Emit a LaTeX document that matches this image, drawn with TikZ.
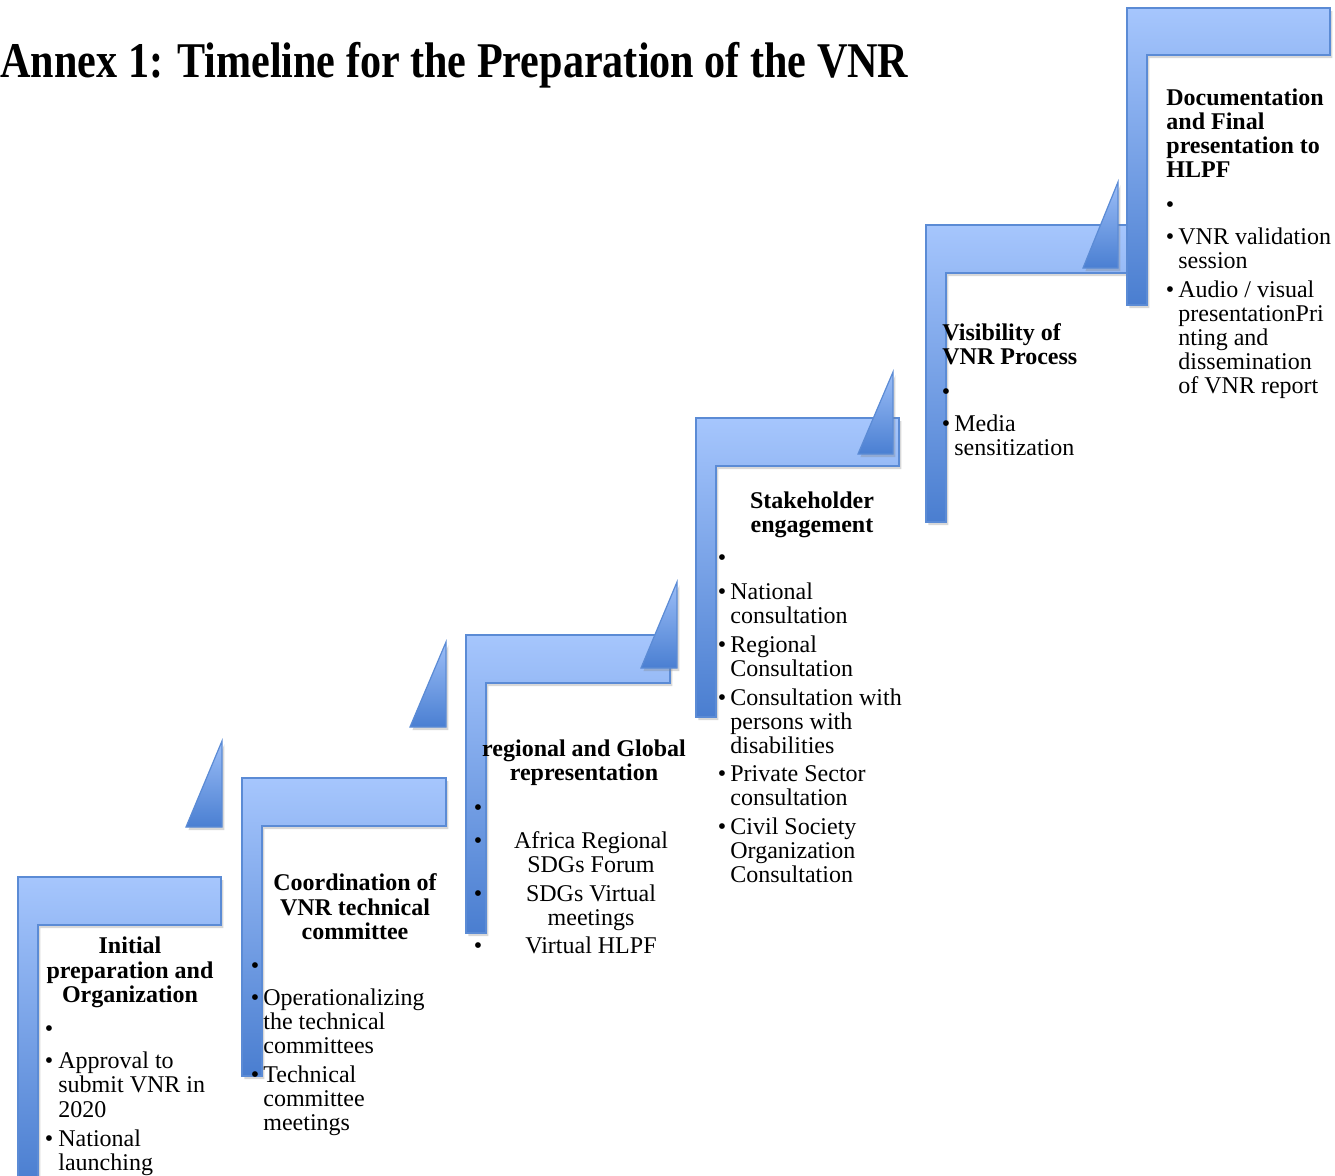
\documentclass[tikz,border=0pt]{standalone}
\usepackage{fontspec}
\usepackage{graphicx}
\setmainfont{Liberation Serif}
\usetikzlibrary{shadows}
\definecolor{barTop}{HTML}{A6C6FD}
\definecolor{barBot}{HTML}{4A7ED0}
\definecolor{barEdge}{HTML}{5B8BD5}
\definecolor{triTop}{HTML}{9CBEF7}
\definecolor{triBot}{HTML}{4A7FD2}
\tikzset{
  stepbar/.style={draw=barEdge, line width=0.6pt, top color=barTop, bottom color=barBot,
    drop shadow={shadow xshift=1.2pt, shadow yshift=-1.6pt, opacity=0.3}},
  tri/.style={draw=barEdge, line width=0.6pt, top color=triTop, bottom color=triBot,
    drop shadow={shadow xshift=1.2pt, shadow yshift=-1.6pt, opacity=0.3}},
  hd/.style={font=\bfseries\fontsize{12}{12}\selectfont, inner sep=0pt, anchor=base},
  hdl/.style={font=\bfseries\fontsize{12}{12}\selectfont, inner sep=0pt, anchor=base west},
  tx/.style={font=\fontsize{12}{12}\selectfont, inner sep=0pt, anchor=base west},
  txc/.style={font=\fontsize{12}{12}\selectfont, inner sep=0pt, anchor=base},
  bul/.style={font=\fontsize{12}{12}\selectfont, inner sep=0pt, anchor=base},
}
\newcommand{\stepshape}[6]{% x0 y0 x1 yb xi ybot
  \path[stepbar] (#1,#2) -- (#3,#2) -- (#3,#4) -- (#5,#4) -- (#5,#6) -- (#1,#6) -- cycle;}
\newcommand{\trishape}[4]{% xl xr yt yb
  \path[tri] (#2,#3) -- (#2,#4) -- (#1,#4) -- cycle;}
\begin{document}
\begin{tikzpicture}[x=0.5pt,y=-0.5pt]
\useasboundingbox (0,0) rectangle (1335,1175);
\fill[white] (0,0) rectangle (1335,1175);

% title
\node[anchor=base west, inner sep=0pt, font=\bfseries\fontsize{25}{25}\selectfont] (title) at (0,77)
  {\resizebox{454pt}{\height}{Annex 1: Timeline for the Preparation of the VNR}};

% shapes
\stepshape{18}{877}{221}{925}{38}{1185}
\trishape{186}{222}{741}{827}
\stepshape{242}{778}{446}{826}{262}{1076}
\trishape{410}{446}{642}{727}
\stepshape{466}{635}{670}{683}{486}{933}
\trishape{641}{677}{582}{668}
\stepshape{696}{418}{899}{466}{716}{717}
\trishape{858}{893}{372}{454}
\stepshape{926}{225}{1127}{273}{946}{522}
\trishape{1083}{1118}{182}{268}
\stepshape{1127}{8}{1330}{55}{1147}{305}

% step 1
\node[hd] (a1) at (130,953) {Initial};
\node[hd] (a2) at (130,978) {preparation and};
\node[hd] (a3) at (130,1002) {Organization};
\node[bul] (ab0) at (49,1036) {•};
\node[bul] (ab1) at (49,1068) {•};
\node[tx] (a4) at (58,1068) {Approval to};
\node[tx] (a5) at (58,1092) {submit VNR in};
\node[tx] (a6) at (58,1117) {2020};
\node[bul] (ab2) at (49,1146) {•};
\node[tx] (a7) at (58,1146) {National};
\node[tx] (a8) at (58,1170) {launching};

% step 2
\node[hd] (b1) at (355,890) {Coordination of};
\node[hd] (b2) at (355,915) {VNR technical};
\node[hd] (b3) at (355,939) {committee};
\node[bul] (bb0) at (255,973) {•};
\node[bul] (bb1) at (255,1005) {•};
\node[tx] (b4) at (263,1005) {Operationalizing};
\node[tx] (b5) at (263,1029) {the technical};
\node[tx] (b6) at (263,1053) {committees};
\node[bul] (bb2) at (255,1082) {•};
\node[tx] (b7) at (263,1082) {Technical};
\node[tx] (b8) at (263,1106) {committee};
\node[tx] (b9) at (263,1130) {meetings};

% step 3
\node[hd] (c1) at (584,756) {regional and Global};
\node[hd] (c2) at (584,780) {representation};
\node[bul] (cb0) at (478,815) {•};
\node[bul] (cb1) at (478,848) {•};
\node[txc] (c3) at (591,848) {Africa Regional};
\node[txc] (c4) at (591,872) {SDGs Forum};
\node[bul] (cb2) at (478,901) {•};
\node[txc] (c5) at (591,901) {SDGs Virtual};
\node[txc] (c6) at (591,925) {meetings};
\node[bul] (cb3) at (478,953) {•};
\node[txc] (c7) at (591,953) {Virtual HLPF};

% step 4
\node[hd] (d1) at (812,508) {Stakeholder};
\node[hd] (d2) at (812,532) {engagement};
\node[bul] (db0) at (722,565) {•};
\node[bul] (db1) at (722,599) {•};
\node[tx] (d3) at (730,599) {National};
\node[tx] (d4) at (730,623) {consultation};
\node[bul] (db2) at (722,652) {•};
\node[tx] (d5) at (730,652) {Regional};
\node[tx] (d6) at (730,676) {Consultation};
\node[bul] (db3) at (722,705) {•};
\node[tx] (d7) at (730,705) {Consultation with};
\node[tx] (d8) at (730,729) {persons with};
\node[tx] (d9) at (730,753) {disabilities};
\node[bul] (db4) at (722,781) {•};
\node[tx] (d10) at (730,781) {Private Sector};
\node[tx] (d11) at (730,805) {consultation};
\node[bul] (db5) at (722,834) {•};
\node[tx] (d12) at (730,834) {Civil Society};
\node[tx] (d13) at (730,858) {Organization};
\node[tx] (d14) at (730,882) {Consultation};

% step 5
\node[hdl] (e1) at (942,340) {Visibility of};
\node[hdl] (e2) at (942,364) {VNR Process};
\node[bul] (eb0) at (946,399) {•};
\node[bul] (eb1) at (946,431) {•};
\node[tx] (e3) at (954,431) {Media};
\node[tx] (e4) at (954,455) {sensitization};

% step 6
\node[hdl] (f1) at (1166,105) {Documentation};
\node[hdl] (f2) at (1166,129) {and Final};
\node[hdl] (f3) at (1166,153) {presentation to};
\node[hdl] (f4) at (1166,177) {HLPF};
\node[bul] (fb0) at (1170,212) {•};
\node[bul] (fb1) at (1170,244) {•};
\node[tx] (f5) at (1178,244) {VNR validation};
\node[tx] (f6) at (1178,268) {session};
\node[bul] (fb2) at (1170,297) {•};
\node[tx] (f7) at (1178,297) {Audio / visual};
\node[tx] (f8) at (1178,321) {presentationPri};
\node[tx] (f9) at (1178,345) {nting and};
\node[tx] (f10) at (1178,369) {dissemination};
\node[tx] (f11) at (1178,393) {of VNR report};
\end{tikzpicture}
\end{document}
